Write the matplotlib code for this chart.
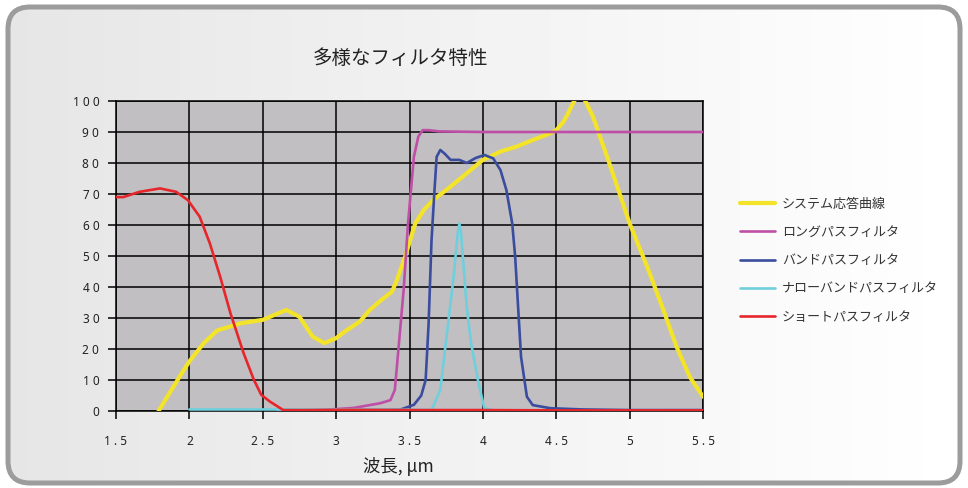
import numpy as np
import matplotlib
matplotlib.use("Agg")
import matplotlib.pyplot as plt
from matplotlib.patches import FancyBboxPatch

plt.rcParams['font.family'] = ['Noto Sans CJK JP', 'DejaVu Sans']

# ---- data ----
title = "多様なフィルタ特性"
xlabel = "波長, μm"
series_names = ["システム応答曲線", "ロングパスフィルタ", "バンドパスフィルタ",
                "ナローバンドパスフィルタ", "ショートパスフィルタ"]
colors = ["#f3e329", "#bf4fa6", "#3a4c9e", "#6fcfdc", "#e6262b"]

sys_x = [1.79, 1.94, 2.0, 2.1, 2.19, 2.35, 2.5, 2.58, 2.66, 2.75, 2.84, 2.92, 3.0,
         3.07, 3.16, 3.23, 3.3, 3.38, 3.41, 3.47, 3.54, 3.6, 3.66, 3.78, 3.89, 4.0,
         4.12, 4.23, 4.34, 4.46, 4.5, 4.55, 4.58, 4.62, 4.66, 4.70, 4.75, 4.87, 5.0,
         5.12, 5.23, 5.32, 5.41, 5.5]
sys_y = [0, 11.6, 16, 22, 26, 28.3, 29.4, 31, 32.6, 30.4, 24, 21.9, 23.5,
         26, 28.8, 32.6, 35.5, 38.5, 41.7, 49.8, 60.6, 65, 68, 72.4, 76.7, 81,
         83.7, 85.3, 87.4, 89.6, 90.6, 93.3, 96, 99.8, 103, 99.8, 95, 78.8, 60.5,
         46.5, 32.6, 20.7, 11, 4.6]

long_x = [2.6, 2.9, 3.12, 3.3, 3.37, 3.40, 3.42, 3.46, 3.49, 3.53, 3.56, 3.59,
          3.63, 3.7, 4.0, 4.5, 5.0, 5.5]
long_y = [0.2, 0.3, 1, 2.5, 3.5, 6.8, 17.5, 39, 60.6, 82, 88.5, 90.6,
          90.6, 90.2, 90, 90, 90, 90]

band_x = [3.0, 3.3, 3.435, 3.53, 3.58, 3.61, 3.63, 3.65, 3.67, 3.685, 3.71, 3.74,
          3.78, 3.84, 3.89, 3.95, 4.01, 4.07, 4.12, 4.16, 4.20, 4.22, 4.24, 4.26,
          4.30, 4.34, 4.46, 4.68, 5.0, 5.5]
band_y = [0.2, 0.3, 0.4, 2, 5, 10, 28, 55, 71, 82, 84.2, 83,
          81, 81, 80, 81.6, 82.6, 81.5, 77.7, 71.3, 60.5, 49.8, 33.6, 17.5,
          4.6, 1.9, 0.9, 0.5, 0.3, 0.3]

narrow_x = [2.0, 2.5, 3.0, 3.5, 3.65, 3.71, 3.75, 3.80, 3.83, 3.84, 3.85, 3.89,
            3.92, 3.97, 4.01, 4.05]
narrow_y = [0.5, 0.5, 0.5, 0.4, 0.3, 6.8, 23, 43, 58, 60.5, 58, 33.6,
            21.8, 9, 0.9, 0.5]

short_x = [1.5, 1.55, 1.66, 1.8, 1.91, 1.99, 2.07, 2.14, 2.21, 2.28, 2.37, 2.44,
           2.49, 2.55, 2.64, 2.8, 3.0, 3.5, 4.0, 4.5, 5.0, 5.5]
short_y = [69, 69, 70.7, 71.8, 70.7, 68, 62.7, 54, 43.3, 31.5, 18.6, 10,
           5.2, 3, 0.3, 0.3, 0.4, 0.3, 0.3, 0.2, 0.2, 0.2]

xticks = [1.5, 2, 2.5, 3, 3.5, 4, 4.5, 5, 5.5]
yticks = [0, 10, 20, 30, 40, 50, 60, 70, 80, 90, 100]

# ---- figure ----
W, H = 968, 488
fig = plt.figure(figsize=(W / 100, H / 100), dpi=100)
fig.patch.set_facecolor("white")

bg = fig.add_axes([0, 0, 1, 1])
bg.set_xlim(0, W)
bg.set_ylim(H, 0)
bg.axis("off")
grad = np.linspace(0.90, 1.0, 256)[None, :]
im = bg.imshow(grad, cmap="gray", vmin=0, vmax=1, aspect="auto",
               extent=[6, 962, 485, 5], zorder=0)
frame = FancyBboxPatch((8, 7), 952, 476, boxstyle="round,pad=0,rounding_size=22",
                       ec="#9c9c9c", fc="none", lw=3.6, zorder=2)
bg.add_patch(frame)
im.set_clip_path(frame)

ax = fig.add_axes([116 / W, 1 - 411 / H, (703 - 116) / W, (411 - 101) / H])
ax.set_facecolor("#c1bfc2")

data = [(sys_x, sys_y), (long_x, long_y), (band_x, band_y),
        (narrow_x, narrow_y), (short_x, short_y)]
widths = [3.0, 1.9, 1.9, 1.9, 1.9]
for (x, y), c, lw, name in zip(data, colors, widths, series_names):
    ax.plot(x, y, color=c, lw=lw, label=name, solid_capstyle="round",
            solid_joinstyle="round", zorder=3)

ax.set_xlim(1.5, 5.5)
ax.set_ylim(0, 100)
ax.set_xticks(xticks)
ax.set_yticks(yticks)
ax.set_xticklabels([" ".join(str(v)) for v in xticks], family=["Noto Sans", "DejaVu Sans"],
                   fontsize=8.5, color="#222222")
ax.set_yticklabels([" ".join(str(v)) for v in yticks], family=["Noto Sans", "DejaVu Sans"],
                   fontsize=8.5, color="#222222")
ax.tick_params(axis="x", length=6, width=1.1, direction="out", pad=11)
ax.tick_params(axis="y", length=6, width=1.1, direction="out", pad=6)
ax.grid(True, color="black", lw=1.1, zorder=1)
ax.set_axisbelow(True)
for s in ax.spines.values():
    s.set_color("black")
    s.set_linewidth(1.1)

fig.text(400 / W, 1 - 58 / H, title, ha="center", va="center", fontsize=14, color="#222222")
fig.text(398 / W, 1 - 467 / H, xlabel, ha="center", va="center", fontsize=12.5, color="#222222")

leg = ax.legend(loc="upper left", bbox_to_anchor=(733 / W, 1 - 191 / H),
                bbox_transform=fig.transFigure, frameon=False, fontsize=9.4,
                handlelength=2.7, handletextpad=0.55, labelspacing=1.17, borderpad=0)
for t in leg.get_texts():
    t.set_color("#333333")

fig.savefig("out.png", dpi=100)
